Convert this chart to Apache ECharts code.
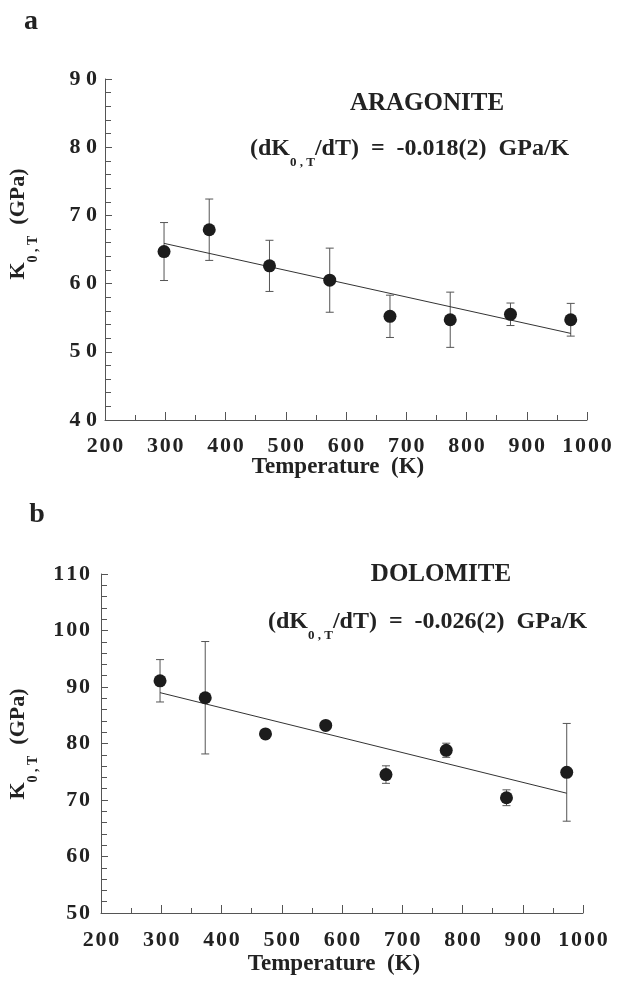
<!DOCTYPE html>
<html>
<head>
<meta charset="utf-8">
<script src="https://cdn.jsdelivr.net/npm/echarts@6/dist/echarts.min.js"></script>
<style>
html,body{margin:0;padding:0;background:#fff;}
#c{width:619px;height:985px;}
</style>
</head>
<body>
<div id="c"></div>
<script>
// ---- data ----
const temps = [298, 373, 473, 573, 673, 773, 873, 973];
const aragoniteK = [64.7, 67.9, 62.6, 60.5, 55.2, 54.7, 55.5, 54.7];
const aragoniteErr = [4.25, 4.5, 3.75, 4.7, 3.1, 4.05, 1.65, 2.4];
const dolomiteK = [91.1, 88.1, 81.7, 83.2, 74.5, 78.8, 70.4, 74.9];
const dolomiteErr = [3.75, 9.95, 0.5, 0.5, 1.55, 1.25, 1.4, 8.65];
const aragoniteFitT = [298, 973];
const aragoniteFitK = [65.9, 52.7];
const dolomiteFitT = [298, 973];
const dolomiteFitK = [89.0, 71.2];
const xRange = [200, 1000];
const aragoniteYRange = [40, 90];
const dolomiteYRange = [50, 110];
const aragoniteLabel = 'ARAGONITE';
const dolomiteLabel = 'DOLOMITE';
const aragoniteSlope = '-0.018(2)';
const dolomiteSlope = '-0.026(2)';

// ---- helpers ----
const FF = '"Liberation Serif", "Times New Roman", serif';
const INK = '#222';
const AX = '#555';

function spaced(sep) { return v => String(v).split('').join(sep); }

function xAxisCfg(gi, margin) {
  return {
    type: 'value', gridIndex: gi, min: xRange[0], max: xRange[1], interval: 100,
    axisLine: { lineStyle: { color: AX, width: 1 } },
    axisTick: { inside: true, length: 8, lineStyle: { color: AX } },
    minorTick: { show: true, splitNumber: 2, length: 5, lineStyle: { color: AX } },
    splitLine: { show: false }, minorSplitLine: { show: false },
    axisLabel: { margin: margin, color: INK, fontFamily: FF, fontWeight: 'bold', fontSize: 22,
      formatter: spaced('\u200A') }
  };
}
function yAxisCfg(gi, range, margin, sep) {
  return {
    type: 'value', gridIndex: gi, min: range[0], max: range[1], interval: 10,
    axisLine: { show: true, lineStyle: { color: AX, width: 1 } },
    axisTick: { show: true, inside: true, length: 7, lineStyle: { color: AX } },
    minorTick: { show: true, splitNumber: 5, length: 6, lineStyle: { color: AX } },
    splitLine: { show: false }, minorSplitLine: { show: false },
    axisLabel: { margin: margin, color: INK, fontFamily: FF, fontWeight: 'bold', fontSize: 22,
      formatter: spaced(sep) }
  };
}
function errRender(params, api) {
  const x = api.value(0);
  const lo = api.coord([x, api.value(1)]);
  const hi = api.coord([x, api.value(2)]);
  const c = 4;
  const st = { stroke: '#555', lineWidth: 1 };
  return { type: 'group', children: [
    { type: 'line', shape: { x1: lo[0], y1: lo[1], x2: hi[0], y2: hi[1] }, style: st },
    { type: 'line', shape: { x1: hi[0] - c, y1: hi[1], x2: hi[0] + c, y2: hi[1] }, style: st },
    { type: 'line', shape: { x1: lo[0] - c, y1: lo[1], x2: lo[0] + c, y2: lo[1] }, style: st }
  ]};
}
function panelSeries(gi, K, E, fitT, fitK) {
  return [
    { type: 'custom', xAxisIndex: gi, yAxisIndex: gi, renderItem: errRender,
      encode: { x: 0, y: [1, 2] }, z: 2,
      data: temps.map((t, i) => [t, K[i] - E[i], K[i] + E[i]]) },
    { type: 'line', xAxisIndex: gi, yAxisIndex: gi, symbol: 'none', z: 3,
      lineStyle: { color: '#333', width: 1 },
      data: fitT.map((t, i) => [t, fitK[i]]) },
    { type: 'scatter', xAxisIndex: gi, yAxisIndex: gi, symbol: 'circle', symbolSize: 13, z: 4,
      itemStyle: { color: '#1c1c1c', opacity: 1 },
      data: temps.map((t, i) => [t, K[i]]) }
  ];
}
const mainRich = { fontFamily: FF, fontWeight: 'bold', fontSize: 24, lineHeight: 26, fill: INK, verticalAlign: 'top' };
const subRich = { fontFamily: FF, fontWeight: 'bold', fontSize: 13, lineHeight: 14, fill: INK, verticalAlign: 'top', padding: [19, 0, 0, 0] };

function formula(x, y, slope) {
  return { type: 'text', x: x, y: y, style: {
    text: '{m|(dK}{s|0 , T}{m|/dT)  =  ' + slope + '  GPa/K}',
    rich: { m: mainRich, s: subRich }, align: 'left', verticalAlign: 'top', y: -13 } };
}
function yTitle(x, y) {
  return { type: 'text', x: x, y: y, rotation: Math.PI / 2, style: {
    text: '{m|K}{s|0 , T}{m|  (GPa)}',
    rich: { m: Object.assign({}, mainRich, { fontSize: 22 }), s: Object.assign({}, subRich, { fontSize: 14 }) },
    align: 'center', verticalAlign: 'top', y: -13 } };
}
function plainText(x, y, txt, size) {
  return { type: 'text', x: x, y: y, style: { text: txt, fontFamily: FF, fontWeight: 'bold',
    fontSize: size, fill: INK, align: 'center', verticalAlign: 'middle' } };
}

const chart = echarts.init(document.getElementById('c'), null, { renderer: 'canvas' });
chart.setOption({
  animation: false,
  backgroundColor: '#fff',
  grid: [
    { left: 105, top: 79, width: 482, height: 341 },
    { left: 101, top: 574, width: 482, height: 339 }
  ],
  xAxis: [xAxisCfg(0, 15), xAxisCfg(1, 16)],
  yAxis: [yAxisCfg(0, aragoniteYRange, 8, ' '), yAxisCfg(1, dolomiteYRange, 11, '\u200A')],
  series: [].concat(
    panelSeries(0, aragoniteK, aragoniteErr, aragoniteFitT, aragoniteFitK),
    panelSeries(1, dolomiteK, dolomiteErr, dolomiteFitT, dolomiteFitK)
  ),
  graphic: [
    plainText(31, 22, 'a', 28),
    plainText(37, 515, 'b', 28),
    plainText(427, 104, aragoniteLabel, 25),
    plainText(441, 575, dolomiteLabel, 25),
    formula(250, 150, aragoniteSlope),
    formula(268, 623, dolomiteSlope),
    yTitle(20, 224),
    yTitle(20, 744),
    plainText(338, 467, 'Temperature  (K)', 23),
    plainText(334, 964, 'Temperature  (K)', 23)
  ]
});
</script>
</body>
</html>
